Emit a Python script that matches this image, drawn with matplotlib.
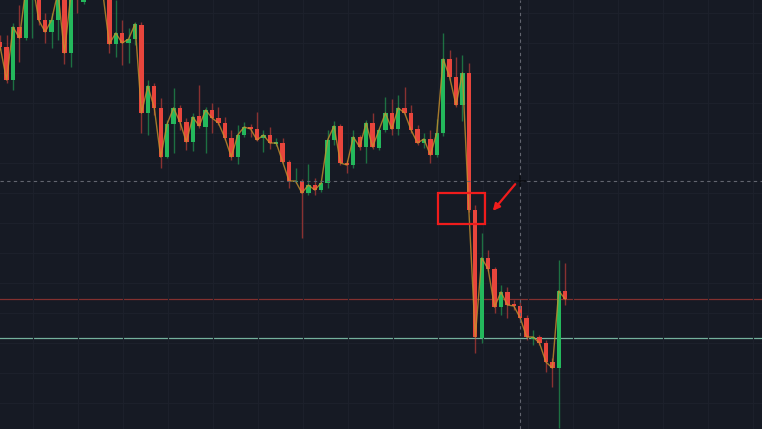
import numpy as np
import matplotlib
matplotlib.use("Agg")
import matplotlib.pyplot as plt
from matplotlib.patches import Rectangle, FancyArrowPatch

# ---- data (price units) ----
opens = [388, 383, 350, 403, 392, 438, 445, 410, 398, 410, 438, 377, 448, 428, 442, 436, 444, 436,
         386, 397, 387, 391, 405, 317, 344, 322, 273, 306, 322, 308, 288, 314, 303, 320, 312, 307,
         292, 273, 295, 303, 301, 292, 295, 286.5, 287, 268, 248, 249, 237, 245, 240, 247, 290, 304,
         267, 265, 293, 283, 307, 282, 300, 317, 301, 322, 317, 301, 287, 291, 275, 297, 371, 353,
         325, 357, 220, 92, 172, 161, 123, 138, 126, 124, 112, 91, 93, 87, 68, 62, 139]
highs = [395, 395, 407, 425, 450, 455, 452, 417, 417, 445, 445, 442, 455, 445, 450, 452, 452, 442,
         430, 410, 402, 408, 408, 350, 347, 332, 310, 342, 325, 312, 317, 345, 323, 327, 323, 313,
         300, 305, 308, 306, 318, 300, 303, 292, 292, 270, 262, 251, 266, 252, 250, 300, 309, 306,
         270, 300, 295, 310, 317, 302, 333, 331, 335, 343, 325, 305, 297, 300, 311, 397, 380, 373,
         375, 367, 225, 197, 180, 163, 145, 143, 130, 128, 115, 100, 95, 90, 72, 170, 167]
lows = [380, 347, 340, 368, 390, 392, 405, 387, 382, 390, 366, 363, 417, 426, 432, 433, 432, 377,
        373, 365, 367, 385, 297, 295, 315, 262, 272, 277, 300, 280, 279, 302, 277, 297, 305, 290,
        270, 266, 293, 293, 289, 278, 281, 284, 267, 242, 247, 192, 235, 235, 238, 242, 285, 265,
        257, 262, 280, 267, 281, 280, 298, 295, 295, 315, 297, 285, 282, 267, 273, 294, 350, 323,
        309, 218, 77, 87, 159, 117, 115, 112, 120, 110, 90, 85, 85, 58, 43, 2, 125]
closes = [383, 350, 403, 392, 442, 448, 410, 398, 410, 438, 377, 435, 436, 440, 436, 444, 436, 386,
          397, 387, 391, 406, 317, 344, 322, 273, 306, 322, 308, 288, 313, 304, 320, 312, 307, 292,
          273, 295, 303, 301, 290, 295, 287, 287, 268, 249, 249, 237, 245, 240, 247, 290, 304, 267,
          265, 293, 283, 307, 283, 300, 317, 301, 322, 317, 300, 287, 291, 275, 297, 371, 353, 325,
          357, 220, 93, 172, 161, 123, 138, 125, 124, 112, 93, 93, 87, 68, 62, 139, 131]

crosshair_price = 249
crosshair_index = 81
red_level = 131
teal_level = 92
box_index = (68.2, 75.5)
box_price = (206, 237)
arrow_from = (80.5, 248)
arrow_to = (76.45, 217)

# ---- style ----
BG = "#161a24"
GREEN = "#24b85c"
RED = "#e8453c"
GRID = "#1c202b"

o = np.array(opens, float)
h = np.array(highs, float)
l = np.array(lows, float)
c = np.array(closes, float)
x = np.arange(len(o))
up = c >= o

fig = plt.figure(figsize=(7.62, 4.29), dpi=100, facecolor=BG)
ax = fig.add_axes([0, 0, 1, 1], facecolor=BG)

spacing = 6.42
ax.set_xlim(-0.2 / spacing, (762 - 0.2) / spacing)
ax.set_ylim(1, 430)

# grid
ax.set_xticks(np.arange(5.11, 120, 45 / spacing))
ax.set_yticks(np.arange(417, 0, -30))
ax.grid(True, color=GRID, lw=0.8)
ax.tick_params(length=0, labelbottom=False, labelleft=False)
for s in ax.spines.values():
    s.set_visible(False)

# horizontal levels
ax.axhline(red_level, color="#83302f", lw=0.9, zorder=1)
ax.axhline(teal_level, color="#74b09c", lw=0.9, zorder=1)

# wicks
cols = np.where(up, GREEN, RED)
ax.vlines(x, l, h, colors=cols, lw=1.0, alpha=0.55, zorder=2)

# bodies
bottom = np.minimum(o, c)
height = np.maximum(np.abs(c - o), 1.5)
ax.bar(x, height, bottom=bottom, width=0.68, color=cols, edgecolor="none", zorder=3)

# close line
ax.plot(x, c, color="#c8902c", lw=1.0, alpha=0.8, zorder=4)

# crosshair
ax.axhline(crosshair_price, color="#62656f", lw=0.8, dashes=(3, 3), zorder=5)
ax.axvline(crosshair_index, color="#62656f", lw=0.8, dashes=(3, 3), zorder=5)
ax.plot([crosshair_index], [crosshair_price], marker="+", color="#0b0d12", ms=9, mew=1.2, zorder=6)

# annotation box and arrow
ax.add_patch(Rectangle((box_index[0], box_price[0]), box_index[1] - box_index[0],
                       box_price[1] - box_price[0], fill=False, edgecolor="#f01c1c",
                       lw=1.6, zorder=7))
ax.add_patch(FancyArrowPatch(arrow_from, arrow_to, arrowstyle="-|>", mutation_scale=10,
                             color="#f01c1c", lw=1.6, zorder=7))

fig.savefig("out.png", dpi=100, facecolor=BG)
